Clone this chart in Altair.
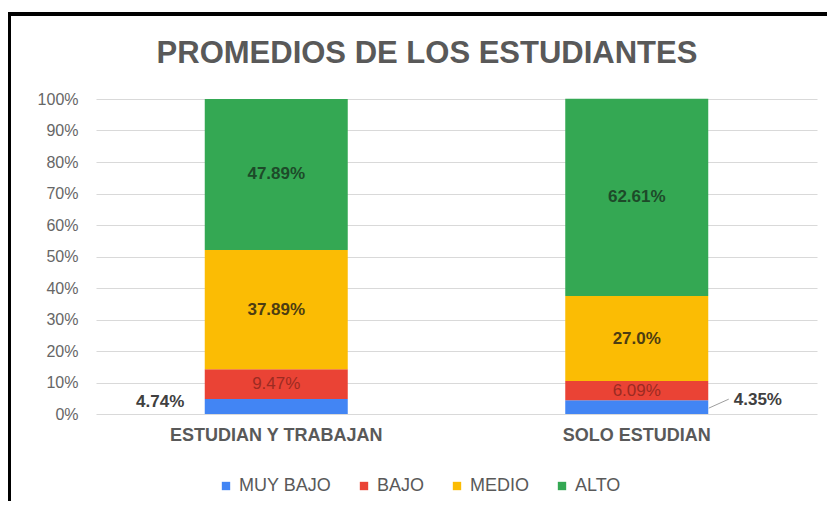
import altair as alt
import pandas as pd

categories = ["ESTUDIAN Y TRABAJAN", "SOLO ESTUDIAN"]
series = ["MUY BAJO", "BAJO", "MEDIO", "ALTO"]
colors = ["#4285F4", "#EA4335", "#FBBC04", "#34A853"]
text_colors = ["#404040", "#9c2b22", "#4d3d12", "#1d4a29"]

muy_bajo = [4.74, 4.35]
bajo = [9.47, 6.09]
medio = [37.89, 27.0]
alto = [47.89, 62.61]

lbl_muy_bajo = ["4.74%", "4.35%"]
lbl_bajo = ["9.47%", "6.09%"]
lbl_medio = ["37.89%", "27.0%"]
lbl_alto = ["47.89%", "62.61%"]

title_text = "PROMEDIOS DE LOS ESTUDIANTES"

values = [muy_bajo, bajo, medio, alto]
labels = [lbl_muy_bajo, lbl_bajo, lbl_medio, lbl_alto]

rows = []
for i, cat in enumerate(categories):
    base = 0.0
    for k, s in enumerate(series):
        v = values[k][i]
        rows.append(dict(cat=cat, serie=s, order=k, value=v, start=base,
                         end=base + v, mid=base + v / 2, label=labels[k][i],
                         idx=i, tcolor=text_colors[k]))
        base += v
df = pd.DataFrame(rows)

FONT = "Liberation Sans"
GRAY = "#595959"

x_axis = alt.Axis(labelAngle=0, domain=False, ticks=False, labelLimit=500,
                  labelFontSize=18, labelFont=FONT, labelFontWeight="bold",
                  labelColor=GRAY, labelPadding=12, grid=False)
x_scale = alt.Scale(paddingInner=0, paddingOuter=0)
y_axis = alt.Axis(values=list(range(0, 101, 10)),
                  labelExpr="datum.value + '%'", labelOverlap=False,
                  grid=True, gridColor="#d9d9d9", domain=False, ticks=False,
                  labelFontSize=16, labelFont=FONT, labelColor="#666666",
                  labelPadding=18)
y_scale = alt.Scale(domain=[0, 100], nice=False)


def X():
    return alt.X("cat:N", sort=categories, title=None, scale=x_scale, axis=x_axis)


def Y(field):
    return alt.Y(field, title=None, scale=y_scale, axis=y_axis)


base = alt.Chart(df)

bars = base.mark_bar(size=143).encode(
    x=X(),
    y=Y("start:Q"),
    y2="end:Q",
    color=alt.Color("serie:N", scale=alt.Scale(domain=series, range=colors),
                    legend=alt.Legend(orient="none", legendX=121, legendY=378,
                                      direction="horizontal", title=None,
                                      symbolType="square", symbolSize=70,
                                      symbolStrokeWidth=0,
                                      labelFontSize=18, labelFont=FONT,
                                      labelColor=GRAY, columnPadding=23,
                                      labelOffset=4)),
    order=alt.Order("order:Q"),
)

inside_bold = base.mark_text(font=FONT, fontSize=17, fontWeight="bold").encode(
    x=X(), y=Y("mid:Q"), text="label:N",
    color=alt.Color("tcolor:N", scale=None),
).transform_filter(alt.FieldOneOfPredicate(field="serie", oneOf=["MEDIO", "ALTO"]))

inside_norm = base.mark_text(font=FONT, fontSize=17).encode(
    x=X(), y=Y("mid:Q"), text="label:N",
    color=alt.Color("tcolor:N", scale=None),
).transform_filter(alt.datum.serie == "BAJO")

out_left = base.mark_text(font=FONT, fontSize=17, fontWeight="bold",
                          align="right", dx=-92, dy=-5).encode(
    x=X(), y=Y("mid:Q"), text="label:N",
    color=alt.Color("tcolor:N", scale=None),
).transform_filter((alt.datum.serie == "MUY BAJO") & (alt.datum.idx == 0))

out_right = base.mark_text(font=FONT, fontSize=17, fontWeight="bold",
                           align="left", dx=97, dy=-7).encode(
    x=X(), y=Y("mid:Q"), text="label:N",
    color=alt.Color("tcolor:N", scale=None),
).transform_filter((alt.datum.serie == "MUY BAJO") & (alt.datum.idx == 1))

leader = base.mark_rule(color="#9e9e9e", strokeWidth=1,
                        xOffset=72, x2Offset=92, yOffset=1, y2Offset=-8).encode(
    x=X(), x2="cat:N", y=Y("mid:Q"), y2="mid:Q",
).transform_filter((alt.datum.serie == "MUY BAJO") & (alt.datum.idx == 1))

title = alt.Chart(pd.DataFrame({"t": [title_text]})).mark_text(
    font=FONT, fontSize=31, fontWeight="bold", color=GRAY,
    align="center", baseline="alphabetic").encode(
    text="t:N", x=alt.value(331), y=alt.value(-36))

frame_top = alt.Chart(df).mark_rule(color="black", strokeWidth=3).encode(
    x=alt.value(-90), x2=alt.value(740), y=alt.value(-85), y2=alt.value(-85))
frame_left = alt.Chart(df).mark_rule(color="black", strokeWidth=3).encode(
    x=alt.value(-87), x2=alt.value(-87), y=alt.value(-86), y2=alt.value(420))

chart = alt.layer(bars, inside_bold, inside_norm, out_left, out_right, leader,
                  title, frame_top, frame_left).properties(
    width=721, height=315,
    padding={"left": 88, "top": 91, "right": 10, "bottom": 87},
    autosize=alt.AutoSizeParams(type="none"),
).configure_view(stroke=None)

chart.save("out.html", embed_options={"renderer": "svg", "actions": False})
